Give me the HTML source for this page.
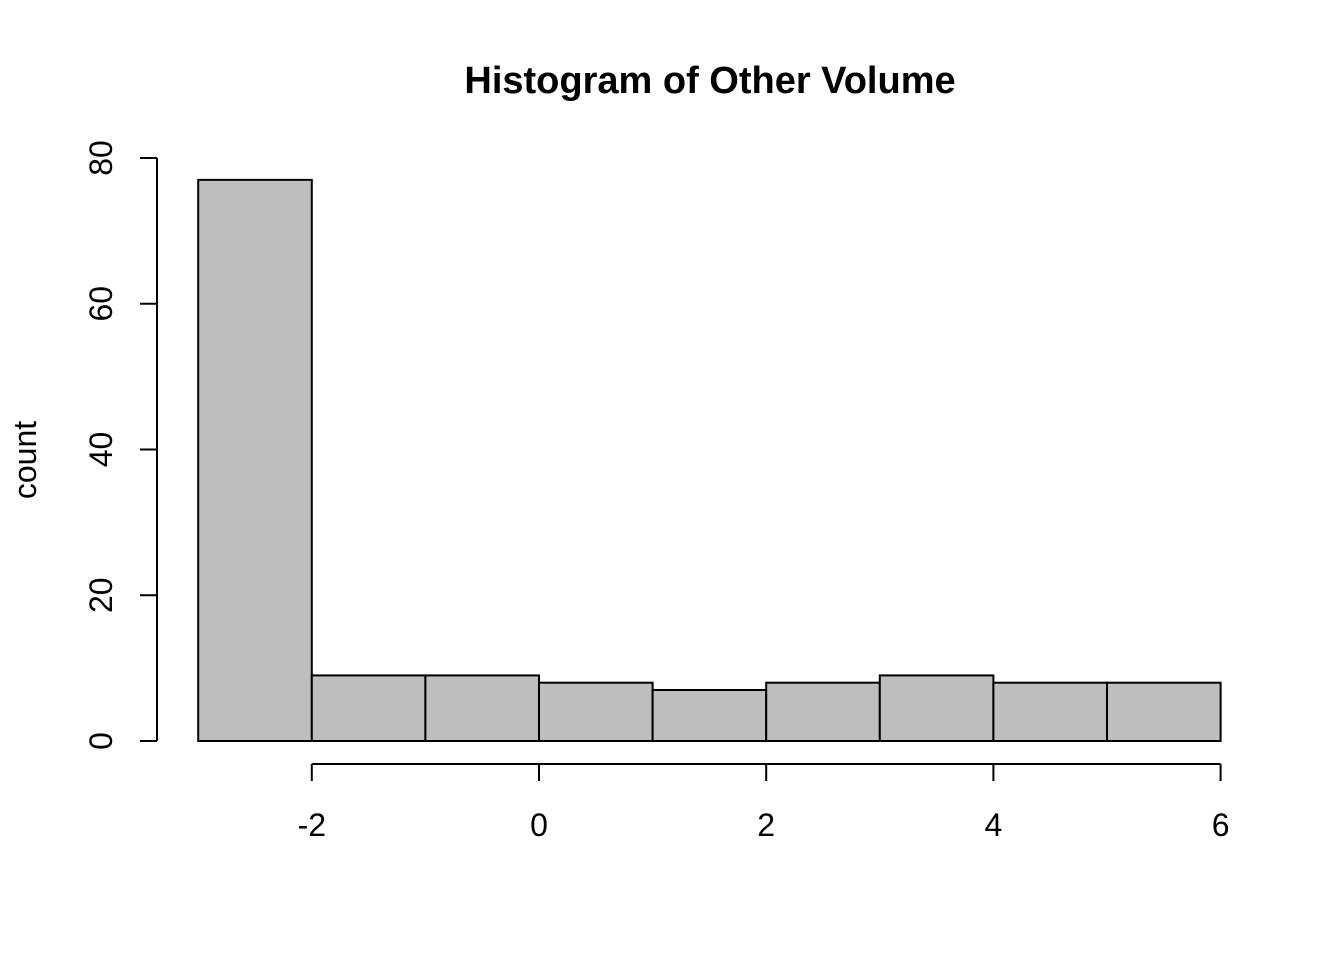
<!DOCTYPE html>
<html><head><meta charset="utf-8"><style>
html,body{margin:0;padding:0;background:#fff;}
svg{display:block;font-family:"Liberation Sans",Arial,sans-serif;}
</style></head><body>
<svg id="chart" width="1344" height="960" viewBox="0 0 1344 960">
<rect width="1344" height="960" fill="#fff"/>
<text x="710" y="93" text-anchor="middle" font-size="38" font-weight="bold">Histogram of Other Volume</text>
<text transform="translate(36,460) rotate(-90)" text-anchor="middle" font-size="32">count</text>
<g id="bars"></g>
<g id="xaxis"></g>
<g id="yaxis"></g>
</svg>
<script>
const binStarts = [-3,-2,-1,0,1,2,3,4,5];
const binWidth = 1;
const counts = [77,9,9,8,7,8,9,8,8];
const xTicks = [-2,0,2,4,6];
const yTicks = [0,20,40,60,80];

const NS = "http://www.w3.org/2000/svg";
const xs = v => 539 + (v - 0) * 113.6;
const ys = v => 741 - v * 7.2875;
function mk(tag, attrs, parent){const e=document.createElementNS(NS,tag);for(const k in attrs)e.setAttribute(k,attrs[k]);parent.appendChild(e);return e;}
const bars=document.getElementById('bars');
counts.forEach((c,i)=>{
  const x0=xs(binStarts[i]), x1=xs(binStarts[i]+binWidth);
  const r=mk('rect',{x:x0,y:ys(c),width:x1-x0,height:ys(0)-ys(c),fill:'#bebebe',stroke:'#000','stroke-width':2},bars);
  
  
});
const xa=document.getElementById('xaxis');
mk('line',{x1:xs(xTicks[0]),x2:xs(xTicks[xTicks.length-1]),y1:764,y2:764,stroke:'#000','stroke-width':2},xa);
xTicks.forEach(t=>{
  mk('line',{x1:xs(t),x2:xs(t),y1:764,y2:781,stroke:'#000','stroke-width':2},xa);
  const tx=mk('text',{x:xs(t),y:836,'text-anchor':'middle','font-size':32},xa);
  tx.textContent=t;
  
  
});
const ya=document.getElementById('yaxis');
mk('line',{x1:157,x2:157,y1:ys(yTicks[0]),y2:ys(yTicks[yTicks.length-1]),stroke:'#000','stroke-width':2},ya);
yTicks.forEach(t=>{
  mk('line',{x1:140,x2:157,y1:ys(t),y2:ys(t),stroke:'#000','stroke-width':2},ya);
  const tx=mk('text',{transform:`translate(112,${ys(t)}) rotate(-90)`,'text-anchor':'middle','font-size':32},ya);
  tx.textContent=t;
  
  
});
</script>
</body></html>
